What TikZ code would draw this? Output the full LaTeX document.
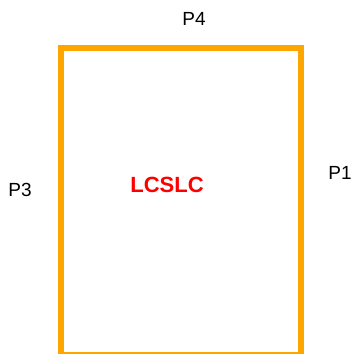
\documentclass[tikz,border=0pt]{standalone}
\usepackage{fontspec}
\setmainfont{Liberation Sans}
\definecolor{edgeorange}{HTML}{FFA500}
\definecolor{titlered}{HTML}{FF0000}
\begin{document}
\begin{tikzpicture}[x=1pt,y=-1pt,
  frame/.style={draw=edgeorange,line width=5.5pt,line join=miter},
  plabel/.style={font=\fontsize{19}{19}\selectfont,text=black,inner sep=0pt},
  title/.style={font=\fontsize{22}{22}\selectfont\bfseries,text=titlered,inner sep=0pt}]
\useasboundingbox (0,0) rectangle (353,354);
\coordinate (tl) at (61,48);
\coordinate (br) at (301,354.5);
\draw[frame] (tl) rectangle (br);
\node[plabel] (p4) at (194,19) {P4};
\node[plabel] (p3) at (20,190) {P3};
\node[plabel] (p1) at (340,173) {P1};
\node[title] (lc) at (167,185) {LCSLC};
\end{tikzpicture}
\end{document}
